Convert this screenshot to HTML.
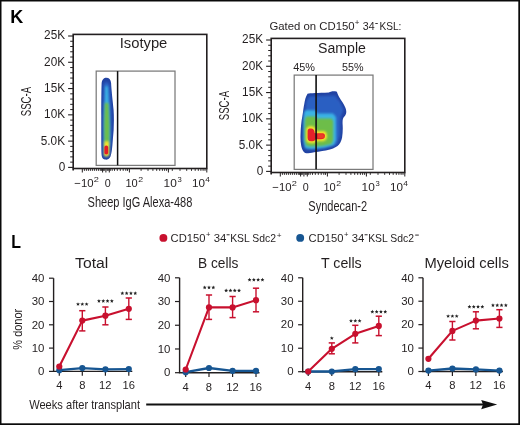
<!DOCTYPE html>
<html><head><meta charset="utf-8"><style>
html,body{margin:0;padding:0;background:#fff;}
svg{display:block;will-change:transform;}
text{font-family:"Liberation Sans",sans-serif;}
</style></head><body>
<svg width="520" height="425" viewBox="0 0 520 425">
<rect width="520" height="425" fill="#fff"/>
<rect x="0" y="0" width="520" height="1.5" fill="#0a0a0a"/>
<rect x="0" y="0" width="1.5" height="425" fill="#0a0a0a"/>
<rect x="518.3" y="0" width="1.7" height="425" fill="#0a0a0a"/>
<rect x="0" y="423.3" width="520" height="1.7" fill="#0a0a0a"/>
<text x="10.13" y="22.9" font-size="18.4" font-weight="bold" fill="#000" textLength="12.99" lengthAdjust="spacingAndGlyphs">K</text>
<text x="11.37" y="247.6" font-size="18.3" font-weight="bold" fill="#000" textLength="9.73" lengthAdjust="spacingAndGlyphs">L</text>
<line x1="68.1" y1="167.4" x2="73.2" y2="167.4" stroke="#231f20" stroke-width="1.1"/>
<line x1="70.2" y1="162.14" x2="73.2" y2="162.14" stroke="#231f20" stroke-width="1"/>
<line x1="70.2" y1="156.89" x2="73.2" y2="156.89" stroke="#231f20" stroke-width="1"/>
<line x1="70.2" y1="151.63" x2="73.2" y2="151.63" stroke="#231f20" stroke-width="1"/>
<line x1="70.2" y1="146.38" x2="73.2" y2="146.38" stroke="#231f20" stroke-width="1"/>
<line x1="68.1" y1="141.12" x2="73.2" y2="141.12" stroke="#231f20" stroke-width="1.1"/>
<line x1="70.2" y1="135.86" x2="73.2" y2="135.86" stroke="#231f20" stroke-width="1"/>
<line x1="70.2" y1="130.61" x2="73.2" y2="130.61" stroke="#231f20" stroke-width="1"/>
<line x1="70.2" y1="125.35" x2="73.2" y2="125.35" stroke="#231f20" stroke-width="1"/>
<line x1="70.2" y1="120.1" x2="73.2" y2="120.1" stroke="#231f20" stroke-width="1"/>
<line x1="68.1" y1="114.84" x2="73.2" y2="114.84" stroke="#231f20" stroke-width="1.1"/>
<line x1="70.2" y1="109.58" x2="73.2" y2="109.58" stroke="#231f20" stroke-width="1"/>
<line x1="70.2" y1="104.33" x2="73.2" y2="104.33" stroke="#231f20" stroke-width="1"/>
<line x1="70.2" y1="99.07" x2="73.2" y2="99.07" stroke="#231f20" stroke-width="1"/>
<line x1="70.2" y1="93.82" x2="73.2" y2="93.82" stroke="#231f20" stroke-width="1"/>
<line x1="68.1" y1="88.56" x2="73.2" y2="88.56" stroke="#231f20" stroke-width="1.1"/>
<line x1="70.2" y1="83.3" x2="73.2" y2="83.3" stroke="#231f20" stroke-width="1"/>
<line x1="70.2" y1="78.05" x2="73.2" y2="78.05" stroke="#231f20" stroke-width="1"/>
<line x1="70.2" y1="72.79" x2="73.2" y2="72.79" stroke="#231f20" stroke-width="1"/>
<line x1="70.2" y1="67.54" x2="73.2" y2="67.54" stroke="#231f20" stroke-width="1"/>
<line x1="68.1" y1="62.28" x2="73.2" y2="62.28" stroke="#231f20" stroke-width="1.1"/>
<line x1="70.2" y1="57.02" x2="73.2" y2="57.02" stroke="#231f20" stroke-width="1"/>
<line x1="70.2" y1="51.77" x2="73.2" y2="51.77" stroke="#231f20" stroke-width="1"/>
<line x1="70.2" y1="46.51" x2="73.2" y2="46.51" stroke="#231f20" stroke-width="1"/>
<line x1="70.2" y1="41.26" x2="73.2" y2="41.26" stroke="#231f20" stroke-width="1"/>
<line x1="68.1" y1="36" x2="73.2" y2="36" stroke="#231f20" stroke-width="1.1"/>
<text x="58.82" y="170.8" font-size="12.1" font-weight="normal" fill="#231f20" textLength="6.56" lengthAdjust="spacingAndGlyphs">0</text>
<text x="40.77" y="144.52" font-size="12.1" font-weight="normal" fill="#231f20" textLength="24.27" lengthAdjust="spacingAndGlyphs">5.0K</text>
<text x="44.08" y="118.24" font-size="12.1" font-weight="normal" fill="#231f20" textLength="20.99" lengthAdjust="spacingAndGlyphs">10K</text>
<text x="44.08" y="91.96" font-size="12.1" font-weight="normal" fill="#231f20" textLength="20.99" lengthAdjust="spacingAndGlyphs">15K</text>
<text x="44.08" y="65.68" font-size="12.1" font-weight="normal" fill="#231f20" textLength="20.99" lengthAdjust="spacingAndGlyphs">20K</text>
<text x="44.08" y="39.4" font-size="12.1" font-weight="normal" fill="#231f20" textLength="20.99" lengthAdjust="spacingAndGlyphs">25K</text>
<line x1="82.3" y1="168.5" x2="82.3" y2="172.5" stroke="#231f20" stroke-width="1"/>
<line x1="102.6" y1="168.5" x2="102.6" y2="172.5" stroke="#231f20" stroke-width="1"/>
<line x1="105.9" y1="168.5" x2="105.9" y2="172.5" stroke="#231f20" stroke-width="1"/>
<line x1="109.3" y1="168.5" x2="109.3" y2="172.5" stroke="#231f20" stroke-width="1"/>
<line x1="129.4" y1="168.5" x2="129.4" y2="172.5" stroke="#231f20" stroke-width="1"/>
<line x1="168.4" y1="168.5" x2="168.4" y2="172.5" stroke="#231f20" stroke-width="1"/>
<line x1="84.4" y1="168.5" x2="84.4" y2="170.9" stroke="#231f20" stroke-width="0.9"/>
<line x1="86.4" y1="168.5" x2="86.4" y2="170.9" stroke="#231f20" stroke-width="0.9"/>
<line x1="88.4" y1="168.5" x2="88.4" y2="170.9" stroke="#231f20" stroke-width="0.9"/>
<line x1="90.4" y1="168.5" x2="90.4" y2="170.9" stroke="#231f20" stroke-width="0.9"/>
<line x1="92.4" y1="168.5" x2="92.4" y2="170.9" stroke="#231f20" stroke-width="0.9"/>
<line x1="94.4" y1="168.5" x2="94.4" y2="170.9" stroke="#231f20" stroke-width="0.9"/>
<line x1="96.4" y1="168.5" x2="96.4" y2="170.9" stroke="#231f20" stroke-width="0.9"/>
<line x1="98.4" y1="168.5" x2="98.4" y2="170.9" stroke="#231f20" stroke-width="0.9"/>
<line x1="100.3" y1="168.5" x2="100.3" y2="170.9" stroke="#231f20" stroke-width="0.9"/>
<line x1="101.6" y1="168.5" x2="101.6" y2="170.9" stroke="#231f20" stroke-width="0.9"/>
<line x1="103.3" y1="168.5" x2="103.3" y2="170.9" stroke="#231f20" stroke-width="0.9"/>
<line x1="104.3" y1="168.5" x2="104.3" y2="170.9" stroke="#231f20" stroke-width="0.9"/>
<line x1="107.2" y1="168.5" x2="107.2" y2="170.9" stroke="#231f20" stroke-width="0.9"/>
<line x1="108.2" y1="168.5" x2="108.2" y2="170.9" stroke="#231f20" stroke-width="0.9"/>
<line x1="110.3" y1="168.5" x2="110.3" y2="170.9" stroke="#231f20" stroke-width="0.9"/>
<line x1="112.2" y1="168.5" x2="112.2" y2="170.9" stroke="#231f20" stroke-width="0.9"/>
<line x1="114.5" y1="168.5" x2="114.5" y2="170.9" stroke="#231f20" stroke-width="0.9"/>
<line x1="117.3" y1="168.5" x2="117.3" y2="170.9" stroke="#231f20" stroke-width="0.9"/>
<line x1="120.3" y1="168.5" x2="120.3" y2="170.9" stroke="#231f20" stroke-width="0.9"/>
<line x1="123.2" y1="168.5" x2="123.2" y2="170.9" stroke="#231f20" stroke-width="0.9"/>
<line x1="125.8" y1="168.5" x2="125.8" y2="170.9" stroke="#231f20" stroke-width="0.9"/>
<line x1="127.5" y1="168.5" x2="127.5" y2="170.9" stroke="#231f20" stroke-width="0.9"/>
<line x1="141.1" y1="168.5" x2="141.1" y2="170.9" stroke="#231f20" stroke-width="0.9"/>
<line x1="148" y1="168.5" x2="148" y2="170.9" stroke="#231f20" stroke-width="0.9"/>
<line x1="152.9" y1="168.5" x2="152.9" y2="170.9" stroke="#231f20" stroke-width="0.9"/>
<line x1="156.7" y1="168.5" x2="156.7" y2="170.9" stroke="#231f20" stroke-width="0.9"/>
<line x1="159.7" y1="168.5" x2="159.7" y2="170.9" stroke="#231f20" stroke-width="0.9"/>
<line x1="162.4" y1="168.5" x2="162.4" y2="170.9" stroke="#231f20" stroke-width="0.9"/>
<line x1="164.6" y1="168.5" x2="164.6" y2="170.9" stroke="#231f20" stroke-width="0.9"/>
<line x1="166.6" y1="168.5" x2="166.6" y2="170.9" stroke="#231f20" stroke-width="0.9"/>
<line x1="172.3" y1="168.5" x2="172.3" y2="170.9" stroke="#231f20" stroke-width="0.9"/>
<line x1="180" y1="168.5" x2="180" y2="170.9" stroke="#231f20" stroke-width="0.9"/>
<line x1="186.7" y1="168.5" x2="186.7" y2="170.9" stroke="#231f20" stroke-width="0.9"/>
<line x1="191.5" y1="168.5" x2="191.5" y2="170.9" stroke="#231f20" stroke-width="0.9"/>
<line x1="195.2" y1="168.5" x2="195.2" y2="170.9" stroke="#231f20" stroke-width="0.9"/>
<line x1="198.3" y1="168.5" x2="198.3" y2="170.9" stroke="#231f20" stroke-width="0.9"/>
<line x1="200.9" y1="168.5" x2="200.9" y2="170.9" stroke="#231f20" stroke-width="0.9"/>
<line x1="203.1" y1="168.5" x2="203.1" y2="170.9" stroke="#231f20" stroke-width="0.9"/>
<line x1="205" y1="168.5" x2="205" y2="170.9" stroke="#231f20" stroke-width="0.9"/>
<line x1="73.2" y1="168.5" x2="73.2" y2="170.6" stroke="#231f20" stroke-width="1.6"/>
<line x1="206.8" y1="168.5" x2="206.8" y2="172.5" stroke="#231f20" stroke-width="1"/>
<text x="74.33" y="186.7" font-size="11.6" font-weight="normal" fill="#231f20" textLength="19.24" lengthAdjust="spacingAndGlyphs">−10</text>
<text x="93.74" y="181.5" font-size="7.6" font-weight="normal" fill="#231f20" textLength="5.13" lengthAdjust="spacingAndGlyphs">2</text>
<text x="104.67" y="186.7" font-size="11.6" font-weight="normal" fill="#231f20" textLength="5.97" lengthAdjust="spacingAndGlyphs">0</text>
<text x="125.47" y="186.7" font-size="11.6" font-weight="normal" fill="#231f20" textLength="12.3" lengthAdjust="spacingAndGlyphs">10</text>
<text x="138.16" y="181.5" font-size="7.6" font-weight="normal" fill="#231f20" textLength="4.89" lengthAdjust="spacingAndGlyphs">2</text>
<text x="163.61" y="186.7" font-size="11.6" font-weight="normal" fill="#231f20" textLength="13.19" lengthAdjust="spacingAndGlyphs">10</text>
<text x="177.49" y="182.2" font-size="7.6" font-weight="normal" fill="#231f20" textLength="4.26" lengthAdjust="spacingAndGlyphs">3</text>
<text x="192.13" y="186.7" font-size="11.6" font-weight="normal" fill="#231f20" textLength="12.97" lengthAdjust="spacingAndGlyphs">10</text>
<text x="205.19" y="182.2" font-size="7.6" font-weight="normal" fill="#231f20" textLength="4.67" lengthAdjust="spacingAndGlyphs">4</text>
<rect x="96.2" y="71.1" width="78.8" height="94.3" fill="none" stroke="#7a7a7a" stroke-width="1.25"/>
<rect x="73.2" y="34.4" width="133.6" height="134.1" fill="none" stroke="#231f20" stroke-width="1.6"/>
<text transform="translate(30.5 116.13) rotate(-90)" x="0" y="0" font-size="14.2" font-weight="normal" fill="#231f20" textLength="29.14" lengthAdjust="spacingAndGlyphs">SSC-A</text>
<text x="87.6" y="206.8" font-size="13.8" font-weight="normal" fill="#231f20" textLength="104.76" lengthAdjust="spacingAndGlyphs">Sheep IgG Alexa-488</text>
<text x="119.67" y="48.3" font-size="14" font-weight="normal" fill="#231f20" textLength="47.68" lengthAdjust="spacingAndGlyphs">Isotype</text>
<line x1="266.1" y1="171.4" x2="271.2" y2="171.4" stroke="#231f20" stroke-width="1.1"/>
<line x1="268.2" y1="166.14" x2="271.2" y2="166.14" stroke="#231f20" stroke-width="1"/>
<line x1="268.2" y1="160.89" x2="271.2" y2="160.89" stroke="#231f20" stroke-width="1"/>
<line x1="268.2" y1="155.63" x2="271.2" y2="155.63" stroke="#231f20" stroke-width="1"/>
<line x1="268.2" y1="150.38" x2="271.2" y2="150.38" stroke="#231f20" stroke-width="1"/>
<line x1="266.1" y1="145.12" x2="271.2" y2="145.12" stroke="#231f20" stroke-width="1.1"/>
<line x1="268.2" y1="139.86" x2="271.2" y2="139.86" stroke="#231f20" stroke-width="1"/>
<line x1="268.2" y1="134.61" x2="271.2" y2="134.61" stroke="#231f20" stroke-width="1"/>
<line x1="268.2" y1="129.35" x2="271.2" y2="129.35" stroke="#231f20" stroke-width="1"/>
<line x1="268.2" y1="124.1" x2="271.2" y2="124.1" stroke="#231f20" stroke-width="1"/>
<line x1="266.1" y1="118.84" x2="271.2" y2="118.84" stroke="#231f20" stroke-width="1.1"/>
<line x1="268.2" y1="113.58" x2="271.2" y2="113.58" stroke="#231f20" stroke-width="1"/>
<line x1="268.2" y1="108.33" x2="271.2" y2="108.33" stroke="#231f20" stroke-width="1"/>
<line x1="268.2" y1="103.07" x2="271.2" y2="103.07" stroke="#231f20" stroke-width="1"/>
<line x1="268.2" y1="97.82" x2="271.2" y2="97.82" stroke="#231f20" stroke-width="1"/>
<line x1="266.1" y1="92.56" x2="271.2" y2="92.56" stroke="#231f20" stroke-width="1.1"/>
<line x1="268.2" y1="87.3" x2="271.2" y2="87.3" stroke="#231f20" stroke-width="1"/>
<line x1="268.2" y1="82.05" x2="271.2" y2="82.05" stroke="#231f20" stroke-width="1"/>
<line x1="268.2" y1="76.79" x2="271.2" y2="76.79" stroke="#231f20" stroke-width="1"/>
<line x1="268.2" y1="71.54" x2="271.2" y2="71.54" stroke="#231f20" stroke-width="1"/>
<line x1="266.1" y1="66.28" x2="271.2" y2="66.28" stroke="#231f20" stroke-width="1.1"/>
<line x1="268.2" y1="61.02" x2="271.2" y2="61.02" stroke="#231f20" stroke-width="1"/>
<line x1="268.2" y1="55.77" x2="271.2" y2="55.77" stroke="#231f20" stroke-width="1"/>
<line x1="268.2" y1="50.51" x2="271.2" y2="50.51" stroke="#231f20" stroke-width="1"/>
<line x1="268.2" y1="45.26" x2="271.2" y2="45.26" stroke="#231f20" stroke-width="1"/>
<line x1="266.1" y1="40" x2="271.2" y2="40" stroke="#231f20" stroke-width="1.1"/>
<text x="256.82" y="174.8" font-size="12.1" font-weight="normal" fill="#231f20" textLength="6.56" lengthAdjust="spacingAndGlyphs">0</text>
<text x="238.77" y="148.52" font-size="12.1" font-weight="normal" fill="#231f20" textLength="24.27" lengthAdjust="spacingAndGlyphs">5.0K</text>
<text x="242.08" y="122.24" font-size="12.1" font-weight="normal" fill="#231f20" textLength="20.99" lengthAdjust="spacingAndGlyphs">10K</text>
<text x="242.08" y="95.96" font-size="12.1" font-weight="normal" fill="#231f20" textLength="20.99" lengthAdjust="spacingAndGlyphs">15K</text>
<text x="242.08" y="69.68" font-size="12.1" font-weight="normal" fill="#231f20" textLength="20.99" lengthAdjust="spacingAndGlyphs">20K</text>
<text x="242.08" y="43.4" font-size="12.1" font-weight="normal" fill="#231f20" textLength="20.99" lengthAdjust="spacingAndGlyphs">25K</text>
<line x1="280.3" y1="172.5" x2="280.3" y2="176.5" stroke="#231f20" stroke-width="1"/>
<line x1="300.6" y1="172.5" x2="300.6" y2="176.5" stroke="#231f20" stroke-width="1"/>
<line x1="303.9" y1="172.5" x2="303.9" y2="176.5" stroke="#231f20" stroke-width="1"/>
<line x1="307.3" y1="172.5" x2="307.3" y2="176.5" stroke="#231f20" stroke-width="1"/>
<line x1="327.4" y1="172.5" x2="327.4" y2="176.5" stroke="#231f20" stroke-width="1"/>
<line x1="366.4" y1="172.5" x2="366.4" y2="176.5" stroke="#231f20" stroke-width="1"/>
<line x1="282.4" y1="172.5" x2="282.4" y2="174.9" stroke="#231f20" stroke-width="0.9"/>
<line x1="284.4" y1="172.5" x2="284.4" y2="174.9" stroke="#231f20" stroke-width="0.9"/>
<line x1="286.4" y1="172.5" x2="286.4" y2="174.9" stroke="#231f20" stroke-width="0.9"/>
<line x1="288.4" y1="172.5" x2="288.4" y2="174.9" stroke="#231f20" stroke-width="0.9"/>
<line x1="290.4" y1="172.5" x2="290.4" y2="174.9" stroke="#231f20" stroke-width="0.9"/>
<line x1="292.4" y1="172.5" x2="292.4" y2="174.9" stroke="#231f20" stroke-width="0.9"/>
<line x1="294.4" y1="172.5" x2="294.4" y2="174.9" stroke="#231f20" stroke-width="0.9"/>
<line x1="296.4" y1="172.5" x2="296.4" y2="174.9" stroke="#231f20" stroke-width="0.9"/>
<line x1="298.3" y1="172.5" x2="298.3" y2="174.9" stroke="#231f20" stroke-width="0.9"/>
<line x1="299.6" y1="172.5" x2="299.6" y2="174.9" stroke="#231f20" stroke-width="0.9"/>
<line x1="301.3" y1="172.5" x2="301.3" y2="174.9" stroke="#231f20" stroke-width="0.9"/>
<line x1="302.3" y1="172.5" x2="302.3" y2="174.9" stroke="#231f20" stroke-width="0.9"/>
<line x1="305.2" y1="172.5" x2="305.2" y2="174.9" stroke="#231f20" stroke-width="0.9"/>
<line x1="306.2" y1="172.5" x2="306.2" y2="174.9" stroke="#231f20" stroke-width="0.9"/>
<line x1="308.3" y1="172.5" x2="308.3" y2="174.9" stroke="#231f20" stroke-width="0.9"/>
<line x1="310.2" y1="172.5" x2="310.2" y2="174.9" stroke="#231f20" stroke-width="0.9"/>
<line x1="312.5" y1="172.5" x2="312.5" y2="174.9" stroke="#231f20" stroke-width="0.9"/>
<line x1="315.3" y1="172.5" x2="315.3" y2="174.9" stroke="#231f20" stroke-width="0.9"/>
<line x1="318.3" y1="172.5" x2="318.3" y2="174.9" stroke="#231f20" stroke-width="0.9"/>
<line x1="321.2" y1="172.5" x2="321.2" y2="174.9" stroke="#231f20" stroke-width="0.9"/>
<line x1="323.8" y1="172.5" x2="323.8" y2="174.9" stroke="#231f20" stroke-width="0.9"/>
<line x1="325.5" y1="172.5" x2="325.5" y2="174.9" stroke="#231f20" stroke-width="0.9"/>
<line x1="339.1" y1="172.5" x2="339.1" y2="174.9" stroke="#231f20" stroke-width="0.9"/>
<line x1="346" y1="172.5" x2="346" y2="174.9" stroke="#231f20" stroke-width="0.9"/>
<line x1="350.9" y1="172.5" x2="350.9" y2="174.9" stroke="#231f20" stroke-width="0.9"/>
<line x1="354.7" y1="172.5" x2="354.7" y2="174.9" stroke="#231f20" stroke-width="0.9"/>
<line x1="357.7" y1="172.5" x2="357.7" y2="174.9" stroke="#231f20" stroke-width="0.9"/>
<line x1="360.4" y1="172.5" x2="360.4" y2="174.9" stroke="#231f20" stroke-width="0.9"/>
<line x1="362.6" y1="172.5" x2="362.6" y2="174.9" stroke="#231f20" stroke-width="0.9"/>
<line x1="364.6" y1="172.5" x2="364.6" y2="174.9" stroke="#231f20" stroke-width="0.9"/>
<line x1="370.3" y1="172.5" x2="370.3" y2="174.9" stroke="#231f20" stroke-width="0.9"/>
<line x1="378" y1="172.5" x2="378" y2="174.9" stroke="#231f20" stroke-width="0.9"/>
<line x1="384.7" y1="172.5" x2="384.7" y2="174.9" stroke="#231f20" stroke-width="0.9"/>
<line x1="389.5" y1="172.5" x2="389.5" y2="174.9" stroke="#231f20" stroke-width="0.9"/>
<line x1="393.2" y1="172.5" x2="393.2" y2="174.9" stroke="#231f20" stroke-width="0.9"/>
<line x1="396.3" y1="172.5" x2="396.3" y2="174.9" stroke="#231f20" stroke-width="0.9"/>
<line x1="398.9" y1="172.5" x2="398.9" y2="174.9" stroke="#231f20" stroke-width="0.9"/>
<line x1="401.1" y1="172.5" x2="401.1" y2="174.9" stroke="#231f20" stroke-width="0.9"/>
<line x1="403" y1="172.5" x2="403" y2="174.9" stroke="#231f20" stroke-width="0.9"/>
<line x1="271.2" y1="172.5" x2="271.2" y2="174.6" stroke="#231f20" stroke-width="1.6"/>
<line x1="404.8" y1="172.5" x2="404.8" y2="176.5" stroke="#231f20" stroke-width="1"/>
<text x="272.33" y="190.7" font-size="11.6" font-weight="normal" fill="#231f20" textLength="19.24" lengthAdjust="spacingAndGlyphs">−10</text>
<text x="291.74" y="185.5" font-size="7.6" font-weight="normal" fill="#231f20" textLength="5.13" lengthAdjust="spacingAndGlyphs">2</text>
<text x="302.67" y="190.7" font-size="11.6" font-weight="normal" fill="#231f20" textLength="5.97" lengthAdjust="spacingAndGlyphs">0</text>
<text x="323.47" y="190.7" font-size="11.6" font-weight="normal" fill="#231f20" textLength="12.3" lengthAdjust="spacingAndGlyphs">10</text>
<text x="336.16" y="185.5" font-size="7.6" font-weight="normal" fill="#231f20" textLength="4.89" lengthAdjust="spacingAndGlyphs">2</text>
<text x="361.61" y="190.7" font-size="11.6" font-weight="normal" fill="#231f20" textLength="13.19" lengthAdjust="spacingAndGlyphs">10</text>
<text x="375.49" y="186.2" font-size="7.6" font-weight="normal" fill="#231f20" textLength="4.26" lengthAdjust="spacingAndGlyphs">3</text>
<text x="390.13" y="190.7" font-size="11.6" font-weight="normal" fill="#231f20" textLength="12.97" lengthAdjust="spacingAndGlyphs">10</text>
<text x="403.19" y="186.2" font-size="7.6" font-weight="normal" fill="#231f20" textLength="4.67" lengthAdjust="spacingAndGlyphs">4</text>
<rect x="294.2" y="75.1" width="78.8" height="94.3" fill="none" stroke="#7a7a7a" stroke-width="1.25"/>
<rect x="271.2" y="38.4" width="133.6" height="134.1" fill="none" stroke="#231f20" stroke-width="1.6"/>
<text transform="translate(228.5 120.13) rotate(-90)" x="0" y="0" font-size="14.2" font-weight="normal" fill="#231f20" textLength="29.14" lengthAdjust="spacingAndGlyphs">SSC-A</text>
<text x="308.3" y="211.2" font-size="13.8" font-weight="normal" fill="#231f20" textLength="58.77" lengthAdjust="spacingAndGlyphs">Syndecan-2</text>
<text x="318.06" y="52.5" font-size="14" font-weight="normal" fill="#231f20" textLength="47.88" lengthAdjust="spacingAndGlyphs">Sample</text>
<g clip-path="url(#clipL)">
<rect x="99" y="75" width="17" height="88" fill="#2243a3"/>
<g filter="url(#bl2)">
<path d="M103.4,86 C103.6,80.5 109.3,80.5 109.6,86 L111.3,110 L111.4,135 L110.3,150 L108,157 L103.5,157 L102.9,150 L102.9,120 Z" fill="#2c5fc2"/>
</g>
<g filter="url(#bl3)">
<path d="M105.1,88 C105.2,84.5 107.8,84.5 108,88 L109.2,110 L109.8,135 L109.2,146 L104.4,147 L104.3,120 Z" fill="#3bb3e5"/>
</g>
<g filter="url(#bl1)">
<path d="M104.8,103 L108.4,103 L109.5,125 L109.3,150 L104.4,152 L104.2,125 Z" fill="#6dbd48"/>
<path d="M104.2,141.5 L109,141.5 L109.2,155 L106.6,156.8 L104,155.5 Z" fill="#f4e42a"/>
</g>
<g filter="url(#bl0)">
<rect x="104.4" y="145.6" width="3.8" height="9" rx="1.8" fill="#e41e26"/>
</g>
</g>
<defs>
<filter id="bl0" x="-20%" y="-20%" width="140%" height="140%"><feGaussianBlur stdDeviation="0.75"/></filter>
<filter id="bl1" x="-30%" y="-30%" width="160%" height="160%"><feGaussianBlur stdDeviation="1.0"/></filter>
<filter id="bl2" x="-30%" y="-30%" width="160%" height="160%"><feGaussianBlur stdDeviation="1.3"/></filter>
<filter id="bl3b" x="-30%" y="-30%" width="160%" height="160%"><feGaussianBlur stdDeviation="0.8"/></filter>
<filter id="bl3" x="-30%" y="-30%" width="160%" height="160%"><feGaussianBlur stdDeviation="1.2"/></filter>
<clipPath id="clipR"><path d="M307.5,93.8 C310,93 318,93.3 328.9,92.6 C330.5,91.5 333,90.8 336.4,91.6 C337.5,92.5 337.2,93.8 339.7,97.9 C341,100 344,104 345.4,107.8 C346.8,111 346.6,114.5 344.4,116.6 C342.8,118.3 342.4,120 342.6,124.2 C342.9,128 342.8,133 342.1,137.4 C341.5,141 339.7,144 337.5,146 C335,148 331,149.3 328.9,149.8 C325,150.8 320,151.6 314.1,152.2 C311,152.8 309,153.3 306.3,153.3 C303.6,152.8 302,149.5 301.2,145.7 C300.5,142 300.4,139 300.5,135 C300.6,129 301.3,121 302.4,116 C303.3,110 303.8,106 304.2,104.5 C305,100 305.5,97 307.5,93.8 Z"/></clipPath>
<clipPath id="clipL"><path d="M101.6,84 C101.8,79.5 104,77.8 106.3,77.8 C109,77.8 110.8,79.5 111.1,83 C111.4,90 112.6,100 113.6,110 C114.2,120 113.9,130 112.8,140 C112.2,148 111.8,153 110.5,156.5 C109.3,159.2 107,159.8 105.5,159.6 C103.5,159.5 102,158.5 101.6,155 C101.2,148 101.3,130 101.3,115 C101.3,100 101.4,90 101.6,84 Z"/></clipPath>
</defs>
<g clip-path="url(#clipR)">
<rect x="298" y="88" width="52" height="68" fill="#2243a3"/>
<g filter="url(#bl2)">
<path d="M309.5,96.5 L335,95.5 L340,102 L343.5,110 L340.5,117.5 L340,135 L337,144.5 L321,149 L306,149.5 L303.8,141 L304,120 L306.5,101 Z" fill="#2c5fc2"/>
</g>
<g filter="url(#bl3)">
<path d="M304.2,112 L306,110.2 L315.5,110.2 L317,113.5 L333,113.5 L336,117 L336.2,140 L334,145 L325,147.5 L312,149 L305,148 L303.6,140 L303.6,118 Z" fill="#3bb3e5"/>
</g>
<g filter="url(#bl1)">
<path d="M305.2,118.5 L306.5,116.5 L315.5,116.5 L317,118.5 L331.5,118.5 L333.2,121 L333.2,140 L331.5,144 L322,146 L310,146.5 L306,145.5 L304.8,140 L304.8,122 Z" fill="#6dbd48"/>

</g>
<g filter="url(#bl3b)">
<path d="M306.1,130.5 C306.1,127 309,126.1 311,126.1 C314.5,126.2 316,128.3 316.3,130.9 L323.5,130.9 C326.2,131 327,133.5 327,136 C327,139.7 325,141.2 322,141.2 L316.6,141.2 C316,143 313.5,143.2 311,143.2 C307.3,143.1 306.1,141.5 306.1,138.5 Z" fill="#f4e42a"/>
</g>
<g filter="url(#bl0)">
<path d="M307.6,131 C307.6,128.8 309.5,128.4 311,128.5 C313.5,128.6 314.5,130 314.7,133 L316,133.2 L323,133.2 C324.8,133.4 325,135 324.9,136.2 C324.8,138.4 323.5,139.2 321,139.2 L315.5,139.2 C315,141 313,141.3 311,141.2 C308.5,141.1 307.6,140 307.6,137.5 Z" fill="#e6202a"/>
<path d="M318,134.3 L323,134.3 C324.2,134.5 324.2,137.8 323,138.2 L318,138.2 Z" fill="#ee4424" opacity="0.8"/>
</g>
</g>

<text x="269.43" y="30.3" font-size="10.3" font-weight="normal" fill="#231f20" textLength="85.22" lengthAdjust="spacingAndGlyphs">Gated on CD150</text>
<text x="354.7" y="25.3" font-size="6.8" font-weight="normal" fill="#231f20" textLength="4.7" lengthAdjust="spacingAndGlyphs">+</text>
<text x="362.87" y="30.3" font-size="10.3" font-weight="normal" fill="#231f20" textLength="11.87" lengthAdjust="spacingAndGlyphs">34</text>
<rect x="375.3" y="23" width="2.5" height="0.9" fill="#231f20"/>
<text x="379.39" y="30.3" font-size="10.3" font-weight="normal" fill="#231f20" textLength="21.95" lengthAdjust="spacingAndGlyphs">KSL:</text>
<line x1="117.6" y1="71.1" x2="117.6" y2="165.3" stroke="#111" stroke-width="1.5"/>
<line x1="316.1" y1="75.1" x2="316.1" y2="169.3" stroke="#111" stroke-width="1.6"/>
<text x="293.13" y="71.4" font-size="11.2" font-weight="normal" fill="#231f20" textLength="21.77" lengthAdjust="spacingAndGlyphs">45%</text>
<text x="342.07" y="71.4" font-size="11.2" font-weight="normal" fill="#231f20" textLength="21.52" lengthAdjust="spacingAndGlyphs">55%</text>
<circle cx="163.4" cy="237.9" r="3.95" fill="#c8102e"/>
<text x="170.64" y="241.8" font-size="10.9" font-weight="normal" fill="#231f20" textLength="34.84" lengthAdjust="spacingAndGlyphs">CD150</text>
<text x="206.02" y="237.4" font-size="7.5" font-weight="normal" fill="#231f20" textLength="4.46" lengthAdjust="spacingAndGlyphs">+</text>
<text x="213.65" y="241.8" font-size="10.9" font-weight="normal" fill="#231f20" textLength="12.62" lengthAdjust="spacingAndGlyphs">34</text>
<rect x="226.6" y="234.3" width="3" height="0.95" fill="#231f20"/>
<text x="230.17" y="241.8" font-size="10.9" font-weight="normal" fill="#231f20" textLength="45.85" lengthAdjust="spacingAndGlyphs">KSL Sdc2</text>
<text x="276.79" y="237.8" font-size="7.5" font-weight="normal" fill="#231f20" textLength="4.82" lengthAdjust="spacingAndGlyphs">+</text>
<circle cx="300.2" cy="237.9" r="3.95" fill="#175692"/>
<text x="308.64" y="241.8" font-size="10.9" font-weight="normal" fill="#231f20" textLength="34.84" lengthAdjust="spacingAndGlyphs">CD150</text>
<text x="344.02" y="237.4" font-size="7.5" font-weight="normal" fill="#231f20" textLength="4.46" lengthAdjust="spacingAndGlyphs">+</text>
<text x="351.65" y="241.8" font-size="10.9" font-weight="normal" fill="#231f20" textLength="12.62" lengthAdjust="spacingAndGlyphs">34</text>
<rect x="364.6" y="234.3" width="3" height="0.95" fill="#231f20"/>
<text x="368.17" y="241.8" font-size="10.9" font-weight="normal" fill="#231f20" textLength="45.85" lengthAdjust="spacingAndGlyphs">KSL Sdc2</text>
<rect x="415.2" y="234.6" width="3.6" height="0.95" fill="#231f20"/>
<line x1="53.6" y1="278.2" x2="53.6" y2="371.4" stroke="#231f20" stroke-width="1.4"/>
<line x1="52.9" y1="371.4" x2="132.3" y2="371.4" stroke="#231f20" stroke-width="1.4"/>
<line x1="49" y1="371.4" x2="53.6" y2="371.4" stroke="#231f20" stroke-width="1.2"/>
<text x="38.11" y="375.1" font-size="11.8" font-weight="normal" fill="#231f20" textLength="6.37" lengthAdjust="spacingAndGlyphs">0</text>
<line x1="49" y1="348.1" x2="53.6" y2="348.1" stroke="#231f20" stroke-width="1.2"/>
<text x="31.75" y="351.8" font-size="11.8" font-weight="normal" fill="#231f20" textLength="12.73" lengthAdjust="spacingAndGlyphs">10</text>
<line x1="49" y1="324.8" x2="53.6" y2="324.8" stroke="#231f20" stroke-width="1.2"/>
<text x="31.75" y="328.5" font-size="11.8" font-weight="normal" fill="#231f20" textLength="12.73" lengthAdjust="spacingAndGlyphs">20</text>
<line x1="49" y1="301.5" x2="53.6" y2="301.5" stroke="#231f20" stroke-width="1.2"/>
<text x="31.75" y="305.2" font-size="11.8" font-weight="normal" fill="#231f20" textLength="12.73" lengthAdjust="spacingAndGlyphs">30</text>
<line x1="49" y1="278.2" x2="53.6" y2="278.2" stroke="#231f20" stroke-width="1.2"/>
<text x="31.75" y="281.9" font-size="11.8" font-weight="normal" fill="#231f20" textLength="12.73" lengthAdjust="spacingAndGlyphs">40</text>
<line x1="59.3" y1="371.4" x2="59.3" y2="375.8" stroke="#231f20" stroke-width="1.2"/>
<line x1="82.3" y1="371.4" x2="82.3" y2="375.8" stroke="#231f20" stroke-width="1.2"/>
<line x1="105.4" y1="371.4" x2="105.4" y2="375.8" stroke="#231f20" stroke-width="1.2"/>
<line x1="128.8" y1="371.4" x2="128.8" y2="375.8" stroke="#231f20" stroke-width="1.2"/>
<text x="56.22" y="389.3" font-size="11.2" font-weight="normal" fill="#231f20" textLength="6.23" lengthAdjust="spacingAndGlyphs">4</text>
<text x="79.16" y="389.3" font-size="11.2" font-weight="normal" fill="#231f20" textLength="6.23" lengthAdjust="spacingAndGlyphs">8</text>
<text x="99.04" y="389.3" font-size="11.2" font-weight="normal" fill="#231f20" textLength="12.46" lengthAdjust="spacingAndGlyphs">12</text>
<text x="122.42" y="389.3" font-size="11.2" font-weight="normal" fill="#231f20" textLength="12.46" lengthAdjust="spacingAndGlyphs">16</text>
<text x="75.09" y="267.7" font-size="13.8" font-weight="normal" fill="#231f20" textLength="33.17" lengthAdjust="spacingAndGlyphs">Total</text>
<polyline points="59.3,370.2 82.3,368.1 105.4,369.3 128.8,369.1" fill="none" stroke="#175692" stroke-width="2.3" stroke-linejoin="round"/>
<circle cx="59.3" cy="370.2" r="3.1" fill="#175692"/>
<circle cx="82.3" cy="368.1" r="3.1" fill="#175692"/>
<circle cx="105.4" cy="369.3" r="3.1" fill="#175692"/>
<circle cx="128.8" cy="369.1" r="3.1" fill="#175692"/>
<polyline points="59.3,366.5 82.3,320.6 105.4,315.7 128.8,308.8" fill="none" stroke="#c8102e" stroke-width="2.1" stroke-linejoin="round"/>
<line x1="82.3" y1="310.7" x2="82.3" y2="330.9" stroke="#c8102e" stroke-width="1.4"/>
<line x1="79.2" y1="310.7" x2="85.4" y2="310.7" stroke="#c8102e" stroke-width="1.5"/>
<line x1="79.2" y1="330.9" x2="85.4" y2="330.9" stroke="#c8102e" stroke-width="1.5"/>
<line x1="105.4" y1="307" x2="105.4" y2="324.8" stroke="#c8102e" stroke-width="1.4"/>
<line x1="102.3" y1="307" x2="108.5" y2="307" stroke="#c8102e" stroke-width="1.5"/>
<line x1="102.3" y1="324.8" x2="108.5" y2="324.8" stroke="#c8102e" stroke-width="1.5"/>
<line x1="128.8" y1="298" x2="128.8" y2="319.4" stroke="#c8102e" stroke-width="1.4"/>
<line x1="125.7" y1="298" x2="131.9" y2="298" stroke="#c8102e" stroke-width="1.5"/>
<line x1="125.7" y1="319.4" x2="131.9" y2="319.4" stroke="#c8102e" stroke-width="1.5"/>
<circle cx="59.3" cy="366.5" r="3.1" fill="#c8102e"/>
<circle cx="82.3" cy="320.6" r="3.1" fill="#c8102e"/>
<circle cx="105.4" cy="315.7" r="3.1" fill="#c8102e"/>
<circle cx="128.8" cy="308.8" r="3.1" fill="#c8102e"/>
<polygon points="78,302.15 78.54,303.45 79.95,303.57 78.88,304.49 79.2,305.86 78,305.12 76.8,305.86 77.12,304.49 76.05,303.57 77.46,303.45" fill="#222"/>
<polygon points="82.3,302.15 82.84,303.45 84.25,303.57 83.18,304.49 83.5,305.86 82.3,305.12 81.1,305.86 81.42,304.49 80.35,303.57 81.76,303.45" fill="#222"/>
<polygon points="86.6,302.15 87.14,303.45 88.55,303.57 87.48,304.49 87.8,305.86 86.6,305.12 85.4,305.86 85.72,304.49 84.65,303.57 86.06,303.45" fill="#222"/>
<polygon points="98.95,298.95 99.49,300.25 100.9,300.37 99.83,301.29 100.15,302.66 98.95,301.92 97.75,302.66 98.07,301.29 97,300.37 98.41,300.25" fill="#222"/>
<polygon points="103.25,298.95 103.79,300.25 105.2,300.37 104.13,301.29 104.45,302.66 103.25,301.92 102.05,302.66 102.37,301.29 101.3,300.37 102.71,300.25" fill="#222"/>
<polygon points="107.55,298.95 108.09,300.25 109.5,300.37 108.43,301.29 108.75,302.66 107.55,301.92 106.35,302.66 106.67,301.29 105.6,300.37 107.01,300.25" fill="#222"/>
<polygon points="111.85,298.95 112.39,300.25 113.8,300.37 112.73,301.29 113.05,302.66 111.85,301.92 110.65,302.66 110.97,301.29 109.9,300.37 111.31,300.25" fill="#222"/>
<polygon points="122.35,291.25 122.89,292.55 124.3,292.67 123.23,293.59 123.55,294.96 122.35,294.22 121.15,294.96 121.47,293.59 120.4,292.67 121.81,292.55" fill="#222"/>
<polygon points="126.65,291.25 127.19,292.55 128.6,292.67 127.53,293.59 127.85,294.96 126.65,294.22 125.45,294.96 125.77,293.59 124.7,292.67 126.11,292.55" fill="#222"/>
<polygon points="130.95,291.25 131.49,292.55 132.9,292.67 131.83,293.59 132.15,294.96 130.95,294.22 129.75,294.96 130.07,293.59 129,292.67 130.41,292.55" fill="#222"/>
<polygon points="135.25,291.25 135.79,292.55 137.2,292.67 136.13,293.59 136.45,294.96 135.25,294.22 134.05,294.96 134.37,293.59 133.3,292.67 134.71,292.55" fill="#222"/>
<line x1="179.6" y1="277.8" x2="179.6" y2="372.7" stroke="#231f20" stroke-width="1.4"/>
<line x1="178.9" y1="372.7" x2="259.5" y2="372.7" stroke="#231f20" stroke-width="1.4"/>
<line x1="175" y1="372.7" x2="179.6" y2="372.7" stroke="#231f20" stroke-width="1.2"/>
<text x="164.11" y="376.4" font-size="11.8" font-weight="normal" fill="#231f20" textLength="6.37" lengthAdjust="spacingAndGlyphs">0</text>
<line x1="175" y1="348.98" x2="179.6" y2="348.98" stroke="#231f20" stroke-width="1.2"/>
<text x="157.75" y="352.68" font-size="11.8" font-weight="normal" fill="#231f20" textLength="12.73" lengthAdjust="spacingAndGlyphs">10</text>
<line x1="175" y1="325.25" x2="179.6" y2="325.25" stroke="#231f20" stroke-width="1.2"/>
<text x="157.75" y="328.95" font-size="11.8" font-weight="normal" fill="#231f20" textLength="12.73" lengthAdjust="spacingAndGlyphs">20</text>
<line x1="175" y1="301.52" x2="179.6" y2="301.52" stroke="#231f20" stroke-width="1.2"/>
<text x="157.75" y="305.22" font-size="11.8" font-weight="normal" fill="#231f20" textLength="12.73" lengthAdjust="spacingAndGlyphs">30</text>
<line x1="175" y1="277.8" x2="179.6" y2="277.8" stroke="#231f20" stroke-width="1.2"/>
<text x="157.75" y="281.5" font-size="11.8" font-weight="normal" fill="#231f20" textLength="12.73" lengthAdjust="spacingAndGlyphs">40</text>
<line x1="185.7" y1="372.7" x2="185.7" y2="377.1" stroke="#231f20" stroke-width="1.2"/>
<line x1="209" y1="372.7" x2="209" y2="377.1" stroke="#231f20" stroke-width="1.2"/>
<line x1="232.6" y1="372.7" x2="232.6" y2="377.1" stroke="#231f20" stroke-width="1.2"/>
<line x1="256" y1="372.7" x2="256" y2="377.1" stroke="#231f20" stroke-width="1.2"/>
<text x="182.62" y="390.6" font-size="11.2" font-weight="normal" fill="#231f20" textLength="6.23" lengthAdjust="spacingAndGlyphs">4</text>
<text x="205.86" y="390.6" font-size="11.2" font-weight="normal" fill="#231f20" textLength="6.23" lengthAdjust="spacingAndGlyphs">8</text>
<text x="226.24" y="390.6" font-size="11.2" font-weight="normal" fill="#231f20" textLength="12.46" lengthAdjust="spacingAndGlyphs">12</text>
<text x="249.62" y="390.6" font-size="11.2" font-weight="normal" fill="#231f20" textLength="12.46" lengthAdjust="spacingAndGlyphs">16</text>
<text x="197.9" y="267.7" font-size="13.8" font-weight="normal" fill="#231f20" textLength="40.49" lengthAdjust="spacingAndGlyphs">B cells</text>
<polyline points="185.7,372.2 209,368 232.6,370.8 256,370.8" fill="none" stroke="#175692" stroke-width="2.3" stroke-linejoin="round"/>
<circle cx="185.7" cy="372.2" r="3.1" fill="#175692"/>
<circle cx="209" cy="368" r="3.1" fill="#175692"/>
<circle cx="232.6" cy="370.8" r="3.1" fill="#175692"/>
<circle cx="256" cy="370.8" r="3.1" fill="#175692"/>
<polyline points="185.7,369.5 209,307.4 232.6,307.4 256,300.2" fill="none" stroke="#c8102e" stroke-width="2.1" stroke-linejoin="round"/>
<line x1="209" y1="295" x2="209" y2="319.4" stroke="#c8102e" stroke-width="1.4"/>
<line x1="205.9" y1="295" x2="212.1" y2="295" stroke="#c8102e" stroke-width="1.5"/>
<line x1="205.9" y1="319.4" x2="212.1" y2="319.4" stroke="#c8102e" stroke-width="1.5"/>
<line x1="232.6" y1="296.5" x2="232.6" y2="317.6" stroke="#c8102e" stroke-width="1.4"/>
<line x1="229.5" y1="296.5" x2="235.7" y2="296.5" stroke="#c8102e" stroke-width="1.5"/>
<line x1="229.5" y1="317.6" x2="235.7" y2="317.6" stroke="#c8102e" stroke-width="1.5"/>
<line x1="256" y1="288.2" x2="256" y2="311.8" stroke="#c8102e" stroke-width="1.4"/>
<line x1="252.9" y1="288.2" x2="259.1" y2="288.2" stroke="#c8102e" stroke-width="1.5"/>
<line x1="252.9" y1="311.8" x2="259.1" y2="311.8" stroke="#c8102e" stroke-width="1.5"/>
<circle cx="185.7" cy="369.5" r="3.1" fill="#c8102e"/>
<circle cx="209" cy="307.4" r="3.1" fill="#c8102e"/>
<circle cx="232.6" cy="307.4" r="3.1" fill="#c8102e"/>
<circle cx="256" cy="300.2" r="3.1" fill="#c8102e"/>
<polygon points="204.7,285.45 205.24,286.75 206.65,286.87 205.58,287.79 205.9,289.16 204.7,288.42 203.5,289.16 203.82,287.79 202.75,286.87 204.16,286.75" fill="#222"/>
<polygon points="209,285.45 209.54,286.75 210.95,286.87 209.88,287.79 210.2,289.16 209,288.42 207.8,289.16 208.12,287.79 207.05,286.87 208.46,286.75" fill="#222"/>
<polygon points="213.3,285.45 213.84,286.75 215.25,286.87 214.18,287.79 214.5,289.16 213.3,288.42 212.1,289.16 212.42,287.79 211.35,286.87 212.76,286.75" fill="#222"/>
<polygon points="226.15,288.55 226.69,289.85 228.1,289.97 227.03,290.89 227.35,292.26 226.15,291.52 224.95,292.26 225.27,290.89 224.2,289.97 225.61,289.85" fill="#222"/>
<polygon points="230.45,288.55 230.99,289.85 232.4,289.97 231.33,290.89 231.65,292.26 230.45,291.52 229.25,292.26 229.57,290.89 228.5,289.97 229.91,289.85" fill="#222"/>
<polygon points="234.75,288.55 235.29,289.85 236.7,289.97 235.63,290.89 235.95,292.26 234.75,291.52 233.55,292.26 233.87,290.89 232.8,289.97 234.21,289.85" fill="#222"/>
<polygon points="239.05,288.55 239.59,289.85 241,289.97 239.93,290.89 240.25,292.26 239.05,291.52 237.85,292.26 238.17,290.89 237.1,289.97 238.51,289.85" fill="#222"/>
<polygon points="249.55,277.75 250.09,279.05 251.5,279.17 250.43,280.09 250.75,281.46 249.55,280.72 248.35,281.46 248.67,280.09 247.6,279.17 249.01,279.05" fill="#222"/>
<polygon points="253.85,277.75 254.39,279.05 255.8,279.17 254.73,280.09 255.05,281.46 253.85,280.72 252.65,281.46 252.97,280.09 251.9,279.17 253.31,279.05" fill="#222"/>
<polygon points="258.15,277.75 258.69,279.05 260.1,279.17 259.03,280.09 259.35,281.46 258.15,280.72 256.95,281.46 257.27,280.09 256.2,279.17 257.61,279.05" fill="#222"/>
<polygon points="262.45,277.75 262.99,279.05 264.4,279.17 263.33,280.09 263.65,281.46 262.45,280.72 261.25,281.46 261.57,280.09 260.5,279.17 261.91,279.05" fill="#222"/>
<line x1="302.7" y1="277.8" x2="302.7" y2="371.7" stroke="#231f20" stroke-width="1.4"/>
<line x1="302" y1="371.7" x2="382.3" y2="371.7" stroke="#231f20" stroke-width="1.4"/>
<line x1="298.1" y1="371.7" x2="302.7" y2="371.7" stroke="#231f20" stroke-width="1.2"/>
<text x="287.21" y="375.4" font-size="11.8" font-weight="normal" fill="#231f20" textLength="6.37" lengthAdjust="spacingAndGlyphs">0</text>
<line x1="298.1" y1="348.23" x2="302.7" y2="348.23" stroke="#231f20" stroke-width="1.2"/>
<text x="280.85" y="351.93" font-size="11.8" font-weight="normal" fill="#231f20" textLength="12.73" lengthAdjust="spacingAndGlyphs">10</text>
<line x1="298.1" y1="324.75" x2="302.7" y2="324.75" stroke="#231f20" stroke-width="1.2"/>
<text x="280.85" y="328.45" font-size="11.8" font-weight="normal" fill="#231f20" textLength="12.73" lengthAdjust="spacingAndGlyphs">20</text>
<line x1="298.1" y1="301.27" x2="302.7" y2="301.27" stroke="#231f20" stroke-width="1.2"/>
<text x="280.85" y="304.97" font-size="11.8" font-weight="normal" fill="#231f20" textLength="12.73" lengthAdjust="spacingAndGlyphs">30</text>
<line x1="298.1" y1="277.8" x2="302.7" y2="277.8" stroke="#231f20" stroke-width="1.2"/>
<text x="280.85" y="281.5" font-size="11.8" font-weight="normal" fill="#231f20" textLength="12.73" lengthAdjust="spacingAndGlyphs">40</text>
<line x1="308.2" y1="371.7" x2="308.2" y2="376.1" stroke="#231f20" stroke-width="1.2"/>
<line x1="331.8" y1="371.7" x2="331.8" y2="376.1" stroke="#231f20" stroke-width="1.2"/>
<line x1="355.3" y1="371.7" x2="355.3" y2="376.1" stroke="#231f20" stroke-width="1.2"/>
<line x1="378.8" y1="371.7" x2="378.8" y2="376.1" stroke="#231f20" stroke-width="1.2"/>
<text x="305.12" y="389.6" font-size="11.2" font-weight="normal" fill="#231f20" textLength="6.23" lengthAdjust="spacingAndGlyphs">4</text>
<text x="328.66" y="389.6" font-size="11.2" font-weight="normal" fill="#231f20" textLength="6.23" lengthAdjust="spacingAndGlyphs">8</text>
<text x="348.94" y="389.6" font-size="11.2" font-weight="normal" fill="#231f20" textLength="12.46" lengthAdjust="spacingAndGlyphs">12</text>
<text x="372.42" y="389.6" font-size="11.2" font-weight="normal" fill="#231f20" textLength="12.46" lengthAdjust="spacingAndGlyphs">16</text>
<text x="320.92" y="267.7" font-size="13.8" font-weight="normal" fill="#231f20" textLength="40.8" lengthAdjust="spacingAndGlyphs">T cells</text>
<polyline points="308.2,371.5 331.8,371.5 355.3,369.2 378.8,369.1" fill="none" stroke="#175692" stroke-width="2.3" stroke-linejoin="round"/>
<circle cx="308.2" cy="371.5" r="3.1" fill="#175692"/>
<circle cx="331.8" cy="371.5" r="3.1" fill="#175692"/>
<circle cx="355.3" cy="369.2" r="3.1" fill="#175692"/>
<circle cx="378.8" cy="369.1" r="3.1" fill="#175692"/>
<polyline points="308.2,371.5 331.8,348.8 355.3,333.8 378.8,325.9" fill="none" stroke="#c8102e" stroke-width="2.1" stroke-linejoin="round"/>
<line x1="331.8" y1="342.9" x2="331.8" y2="353.8" stroke="#c8102e" stroke-width="1.4"/>
<line x1="328.7" y1="342.9" x2="334.9" y2="342.9" stroke="#c8102e" stroke-width="1.5"/>
<line x1="328.7" y1="353.8" x2="334.9" y2="353.8" stroke="#c8102e" stroke-width="1.5"/>
<line x1="355.3" y1="325.3" x2="355.3" y2="342.9" stroke="#c8102e" stroke-width="1.4"/>
<line x1="352.2" y1="325.3" x2="358.4" y2="325.3" stroke="#c8102e" stroke-width="1.5"/>
<line x1="352.2" y1="342.9" x2="358.4" y2="342.9" stroke="#c8102e" stroke-width="1.5"/>
<line x1="378.8" y1="316.2" x2="378.8" y2="335.6" stroke="#c8102e" stroke-width="1.4"/>
<line x1="375.7" y1="316.2" x2="381.9" y2="316.2" stroke="#c8102e" stroke-width="1.5"/>
<line x1="375.7" y1="335.6" x2="381.9" y2="335.6" stroke="#c8102e" stroke-width="1.5"/>
<circle cx="308.2" cy="371.5" r="3.1" fill="#c8102e"/>
<circle cx="331.8" cy="348.8" r="3.1" fill="#c8102e"/>
<circle cx="355.3" cy="333.8" r="3.1" fill="#c8102e"/>
<circle cx="378.8" cy="325.9" r="3.1" fill="#c8102e"/>
<polygon points="331.8,336.15 332.34,337.45 333.75,337.57 332.68,338.49 333,339.86 331.8,339.12 330.6,339.86 330.92,338.49 329.85,337.57 331.26,337.45" fill="#222"/>
<polygon points="351,318.85 351.54,320.15 352.95,320.27 351.88,321.19 352.2,322.56 351,321.82 349.8,322.56 350.12,321.19 349.05,320.27 350.46,320.15" fill="#222"/>
<polygon points="355.3,318.85 355.84,320.15 357.25,320.27 356.18,321.19 356.5,322.56 355.3,321.82 354.1,322.56 354.42,321.19 353.35,320.27 354.76,320.15" fill="#222"/>
<polygon points="359.6,318.85 360.14,320.15 361.55,320.27 360.48,321.19 360.8,322.56 359.6,321.82 358.4,322.56 358.72,321.19 357.65,320.27 359.06,320.15" fill="#222"/>
<polygon points="372.35,309.75 372.89,311.05 374.3,311.17 373.23,312.09 373.55,313.46 372.35,312.72 371.15,313.46 371.47,312.09 370.4,311.17 371.81,311.05" fill="#222"/>
<polygon points="376.65,309.75 377.19,311.05 378.6,311.17 377.53,312.09 377.85,313.46 376.65,312.72 375.45,313.46 375.77,312.09 374.7,311.17 376.11,311.05" fill="#222"/>
<polygon points="380.95,309.75 381.49,311.05 382.9,311.17 381.83,312.09 382.15,313.46 380.95,312.72 379.75,313.46 380.07,312.09 379,311.17 380.41,311.05" fill="#222"/>
<polygon points="385.25,309.75 385.79,311.05 387.2,311.17 386.13,312.09 386.45,313.46 385.25,312.72 384.05,313.46 384.37,312.09 383.3,311.17 384.71,311.05" fill="#222"/>
<line x1="423" y1="277.8" x2="423" y2="371.5" stroke="#231f20" stroke-width="1.4"/>
<line x1="422.3" y1="371.5" x2="502.9" y2="371.5" stroke="#231f20" stroke-width="1.4"/>
<line x1="418.4" y1="371.5" x2="423" y2="371.5" stroke="#231f20" stroke-width="1.2"/>
<text x="407.51" y="375.2" font-size="11.8" font-weight="normal" fill="#231f20" textLength="6.37" lengthAdjust="spacingAndGlyphs">0</text>
<line x1="418.4" y1="348.07" x2="423" y2="348.07" stroke="#231f20" stroke-width="1.2"/>
<text x="401.15" y="351.77" font-size="11.8" font-weight="normal" fill="#231f20" textLength="12.73" lengthAdjust="spacingAndGlyphs">10</text>
<line x1="418.4" y1="324.65" x2="423" y2="324.65" stroke="#231f20" stroke-width="1.2"/>
<text x="401.15" y="328.35" font-size="11.8" font-weight="normal" fill="#231f20" textLength="12.73" lengthAdjust="spacingAndGlyphs">20</text>
<line x1="418.4" y1="301.23" x2="423" y2="301.23" stroke="#231f20" stroke-width="1.2"/>
<text x="401.15" y="304.93" font-size="11.8" font-weight="normal" fill="#231f20" textLength="12.73" lengthAdjust="spacingAndGlyphs">30</text>
<line x1="418.4" y1="277.8" x2="423" y2="277.8" stroke="#231f20" stroke-width="1.2"/>
<text x="401.15" y="281.5" font-size="11.8" font-weight="normal" fill="#231f20" textLength="12.73" lengthAdjust="spacingAndGlyphs">40</text>
<line x1="428.4" y1="371.5" x2="428.4" y2="375.9" stroke="#231f20" stroke-width="1.2"/>
<line x1="452.4" y1="371.5" x2="452.4" y2="375.9" stroke="#231f20" stroke-width="1.2"/>
<line x1="475.9" y1="371.5" x2="475.9" y2="375.9" stroke="#231f20" stroke-width="1.2"/>
<line x1="499.4" y1="371.5" x2="499.4" y2="375.9" stroke="#231f20" stroke-width="1.2"/>
<text x="425.32" y="389.4" font-size="11.2" font-weight="normal" fill="#231f20" textLength="6.23" lengthAdjust="spacingAndGlyphs">4</text>
<text x="449.26" y="389.4" font-size="11.2" font-weight="normal" fill="#231f20" textLength="6.23" lengthAdjust="spacingAndGlyphs">8</text>
<text x="469.54" y="389.4" font-size="11.2" font-weight="normal" fill="#231f20" textLength="12.46" lengthAdjust="spacingAndGlyphs">12</text>
<text x="493.02" y="389.4" font-size="11.2" font-weight="normal" fill="#231f20" textLength="12.46" lengthAdjust="spacingAndGlyphs">16</text>
<text x="424.42" y="267.7" font-size="13.8" font-weight="normal" fill="#231f20" textLength="84.38" lengthAdjust="spacingAndGlyphs">Myeloid cells</text>
<polyline points="428.4,370.6 452.4,368.5 475.9,369.4 499.4,370.6" fill="none" stroke="#175692" stroke-width="2.3" stroke-linejoin="round"/>
<circle cx="428.4" cy="370.6" r="3.1" fill="#175692"/>
<circle cx="452.4" cy="368.5" r="3.1" fill="#175692"/>
<circle cx="475.9" cy="369.4" r="3.1" fill="#175692"/>
<circle cx="499.4" cy="370.6" r="3.1" fill="#175692"/>
<polyline points="428.4,358.8 452.4,330.9 475.9,320.6 499.4,318.5" fill="none" stroke="#c8102e" stroke-width="2.1" stroke-linejoin="round"/>
<line x1="452.4" y1="321.5" x2="452.4" y2="340" stroke="#c8102e" stroke-width="1.4"/>
<line x1="449.3" y1="321.5" x2="455.5" y2="321.5" stroke="#c8102e" stroke-width="1.5"/>
<line x1="449.3" y1="340" x2="455.5" y2="340" stroke="#c8102e" stroke-width="1.5"/>
<line x1="475.9" y1="311.8" x2="475.9" y2="328.8" stroke="#c8102e" stroke-width="1.4"/>
<line x1="472.8" y1="311.8" x2="479" y2="311.8" stroke="#c8102e" stroke-width="1.5"/>
<line x1="472.8" y1="328.8" x2="479" y2="328.8" stroke="#c8102e" stroke-width="1.5"/>
<line x1="499.4" y1="309.7" x2="499.4" y2="327.4" stroke="#c8102e" stroke-width="1.4"/>
<line x1="496.3" y1="309.7" x2="502.5" y2="309.7" stroke="#c8102e" stroke-width="1.5"/>
<line x1="496.3" y1="327.4" x2="502.5" y2="327.4" stroke="#c8102e" stroke-width="1.5"/>
<circle cx="428.4" cy="358.8" r="3.1" fill="#c8102e"/>
<circle cx="452.4" cy="330.9" r="3.1" fill="#c8102e"/>
<circle cx="475.9" cy="320.6" r="3.1" fill="#c8102e"/>
<circle cx="499.4" cy="318.5" r="3.1" fill="#c8102e"/>
<polygon points="448.1,314.15 448.64,315.45 450.05,315.57 448.98,316.49 449.3,317.86 448.1,317.12 446.9,317.86 447.22,316.49 446.15,315.57 447.56,315.45" fill="#222"/>
<polygon points="452.4,314.15 452.94,315.45 454.35,315.57 453.28,316.49 453.6,317.86 452.4,317.12 451.2,317.86 451.52,316.49 450.45,315.57 451.86,315.45" fill="#222"/>
<polygon points="456.7,314.15 457.24,315.45 458.65,315.57 457.58,316.49 457.9,317.86 456.7,317.12 455.5,317.86 455.82,316.49 454.75,315.57 456.16,315.45" fill="#222"/>
<polygon points="469.45,304.75 469.99,306.05 471.4,306.17 470.33,307.09 470.65,308.46 469.45,307.72 468.25,308.46 468.57,307.09 467.5,306.17 468.91,306.05" fill="#222"/>
<polygon points="473.75,304.75 474.29,306.05 475.7,306.17 474.63,307.09 474.95,308.46 473.75,307.72 472.55,308.46 472.87,307.09 471.8,306.17 473.21,306.05" fill="#222"/>
<polygon points="478.05,304.75 478.59,306.05 480,306.17 478.93,307.09 479.25,308.46 478.05,307.72 476.85,308.46 477.17,307.09 476.1,306.17 477.51,306.05" fill="#222"/>
<polygon points="482.35,304.75 482.89,306.05 484.3,306.17 483.23,307.09 483.55,308.46 482.35,307.72 481.15,308.46 481.47,307.09 480.4,306.17 481.81,306.05" fill="#222"/>
<polygon points="492.95,303.25 493.49,304.55 494.9,304.67 493.83,305.59 494.15,306.96 492.95,306.22 491.75,306.96 492.07,305.59 491,304.67 492.41,304.55" fill="#222"/>
<polygon points="497.25,303.25 497.79,304.55 499.2,304.67 498.13,305.59 498.45,306.96 497.25,306.22 496.05,306.96 496.37,305.59 495.3,304.67 496.71,304.55" fill="#222"/>
<polygon points="501.55,303.25 502.09,304.55 503.5,304.67 502.43,305.59 502.75,306.96 501.55,306.22 500.35,306.96 500.67,305.59 499.6,304.67 501.01,304.55" fill="#222"/>
<polygon points="505.85,303.25 506.39,304.55 507.8,304.67 506.73,305.59 507.05,306.96 505.85,306.22 504.65,306.96 504.97,305.59 503.9,304.67 505.31,304.55" fill="#222"/>
<text transform="translate(22.4 349.68) rotate(-90)" x="0" y="0" font-size="12.6" font-weight="normal" fill="#231f20" textLength="40.9" lengthAdjust="spacingAndGlyphs">% donor</text>
<text x="29.14" y="409.1" font-size="13.4" font-weight="normal" fill="#231f20" textLength="110.93" lengthAdjust="spacingAndGlyphs">Weeks after transplant</text>
<line x1="146.2" y1="404.5" x2="484" y2="404.5" stroke="#111" stroke-width="1.8"/>
<polygon points="481.2,399.9 497.2,404.5 481.2,409.2 483,404.5" fill="#111"/>
</svg>
</body></html>
